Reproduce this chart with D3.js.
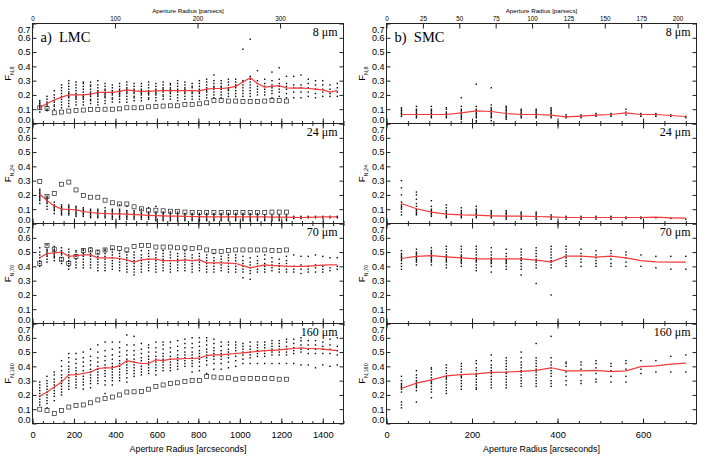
<!DOCTYPE html>
<html>
<head>
<meta charset="utf-8">
<script src="https://cdn.jsdelivr.net/npm/d3@7"></script>
<style>
body { margin: 0; background: #fff; }
text { font-family: "Liberation Sans", Arial, sans-serif; fill: #000; }
text.serif { font-family: "Liberation Serif", "Times New Roman", serif; font-weight: normal; }
</style>
</head>
<body>
<svg id="chart" width="708" height="459"></svg>
<script>
// aperture radii (arcsec) of each column
var lmcRadii = [35,70,105,140,175,210,245,280,315,350,385,420,455,490,525,560,595,630,665,700,
  735,770,805,840,875,910,945,980,1015,1050,1085,1120,1155,1190,1225,1260,1295,1330,1365,1400,1435,1470];
var smcRadii = [35,70,105,140,175,210,245,280,315,350,385,420,455,490,525,560,595,630,665,700];

var bands = ["8", "24", "70", "160"];
var yTicks = [0, 0.1, 0.2, 0.3, 0.4, 0.5, 0.6, 0.7];
var lmcXTicks = [0, 200, 400, 600, 800, 1000, 1200, 1400];
var smcXTicks = [0, 200, 400, 600];
var lmcPcTicks = [0, 100, 200, 300];
var smcPcTicks = [0, 25, 50, 75, 100, 125, 150, 175, 200];

// median lines
var lmcMed8 = [.112,.14,.165,.185,.20,.20,.20,.205,.218,.218,.218,.225,.235,.228,.225,.225,.228,.23,.23,.23,
  .23,.23,.228,.24,.245,.245,.25,.26,.29,.32,.28,.255,.26,.265,.25,.248,.25,.245,.24,.235,.22,.23];
var lmcMed24 = [.205,.16,.125,.10,.098,.095,.085,.077,.072,.07,.068,.067,.065,.062,.06,.057,.055,.053,.052,.051,
  .05,.049,.048,.047,.047,.047,.047,.046,.046,.046,.046,.046,.045,.045,.045,.043,.042,.043,.045,.046,.046,.047];
var lmcMed70 = [.46,.49,.495,.50,.47,.475,.48,.48,.46,.46,.46,.455,.445,.43,.445,.45,.45,.44,.44,.44,
  .445,.44,.445,.425,.425,.425,.422,.42,.405,.39,.40,.41,.405,.405,.40,.40,.40,.402,.405,.408,.41,.41];
var lmcMed160 = [.19,.22,.255,.29,.34,.342,.35,.36,.385,.39,.39,.405,.44,.43,.42,.42,.445,.44,.45,.45,
  .455,.455,.457,.475,.48,.48,.485,.49,.495,.50,.505,.51,.512,.515,.52,.525,.53,.525,.525,.52,.515,.51];

// open squares (LMC only)
var lmcBox8 = [.11,.105,.075,.08,.087,.091,.094,.098,.098,.10,.10,.103,.11,.11,.11,.117,.12,.122,.124,.124,
  .133,.133,.138,.145,.16,.16,.157,.157,.155,.155,.155,.157,.16,.16,.157];
var lmcBox24 = [.294,.19,.21,.275,.29,.235,.196,.184,.184,.163,.145,.137,.137,.117,.103,.093,.093,.089,.086,.084,
  .08,.078,.077,.076,.076,.077,.077,.076,.076,.077,.076,.078,.08,.08,.08];
var lmcBox70 = [.42,.545,.52,.45,.42,.47,.51,.515,.50,.515,.53,.525,.515,.54,.545,.545,.535,.535,.535,.53,
  .53,.525,.53,.515,.505,.505,.51,.515,.515,.515,.515,.515,.51,.51,.515];
var lmcBox160 = [.10,.09,.07,.09,.115,.125,.13,.145,.165,.175,.185,.20,.22,.222,.225,.24,.26,.27,.28,.285,
  .295,.30,.30,.33,.325,.32,.32,.31,.315,.315,.315,.315,.315,.31,.31];

// individual regions, one list per aperture
var lmcDots8 = [
  [.08,.10,.11,.12,.13,.14,.15,.16],[.09,.10,.12,.13,.14,.15,.17,.19],[.10,.12,.13,.15,.16,.18,.20,.23],
  [.11,.13,.15,.17,.19,.21,.23,.25,.27],[.12,.14,.16,.18,.19,.20,.21,.22,.24,.26,.28,.30],
  [.13,.15,.17,.18,.19,.20,.21,.23,.25,.27,.29],[.13,.15,.17,.18,.19,.20,.22,.24,.26,.28,.29],
  [.14,.16,.17,.19,.20,.21,.22,.24,.26,.27,.29],[.13,.15,.17,.19,.20,.21,.22,.23,.25,.27,.30],
  [.14,.16,.18,.19,.20,.21,.23,.24,.26,.28],[.15,.17,.18,.20,.21,.22,.23,.25,.27],
  [.15,.17,.19,.20,.21,.22,.23,.24,.26,.28],[.15,.17,.19,.21,.22,.23,.24,.25,.27,.29],
  [.16,.18,.19,.21,.22,.23,.24,.26,.28],[.16,.18,.20,.21,.22,.23,.24,.26,.28],
  [.17,.18,.20,.21,.22,.23,.25,.27,.29],[.16,.18,.20,.21,.22,.23,.24,.26,.28],
  [.17,.19,.20,.22,.23,.24,.25,.27,.29],[.17,.19,.21,.22,.23,.24,.25,.27,.28],
  [.16,.18,.20,.22,.23,.24,.26,.28,.30],[.17,.19,.21,.22,.23,.24,.25,.27,.29],
  [.17,.19,.21,.22,.23,.25,.26,.28],[.17,.19,.21,.22,.23,.24,.26,.28,.30],
  [.18,.20,.22,.23,.24,.25,.27,.29,.31],[.18,.20,.22,.24,.25,.26,.28,.30,.34],
  [.18,.20,.22,.24,.25,.26,.28,.30],[.19,.21,.23,.24,.25,.27,.29,.31],
  [.19,.21,.23,.25,.26,.27,.29,.31],[.19,.21,.23,.25,.27,.29,.30,.52],
  [.19,.21,.23,.25,.27,.29,.31,.33,.59],[.20,.22,.24,.26,.28,.30,.37],[.20,.22,.24,.26,.28,.31],
  [.18,.21,.23,.25,.27,.30,.36],[.19,.22,.24,.26,.28,.31,.39],[.18,.21,.24,.26,.28,.33],
  [.18,.22,.25,.27,.33],[.18,.22,.25,.27,.34],[.19,.22,.25,.28,.31],[.18,.21,.24,.27,.30],
  [.19,.22,.24,.27,.30],[.19,.21,.24,.27],[.19,.22,.25,.28]
];
var lmcDots24 = [
  [.14,.16,.17,.18,.19,.20,.21,.22,.23,.24],[.10,.12,.14,.15,.16,.17,.18,.19],[.07,.09,.10,.11,.12,.13,.15],
  [.06,.07,.08,.09,.10,.11,.12,.13],[.06,.07,.08,.09,.10,.11,.12,.13],[.05,.06,.07,.08,.09,.10,.11,.12],
  [.05,.06,.07,.08,.09,.10,.11],[.04,.05,.06,.07,.08,.09,.10],[.04,.05,.06,.07,.08,.09,.10],
  [.04,.05,.06,.07,.08,.09,.11],[.03,.04,.05,.06,.07,.08,.09,.10],[.03,.04,.05,.06,.07,.08,.09,.10,.13],
  [.03,.04,.05,.06,.07,.08,.09,.12],[.03,.04,.05,.06,.07,.08,.09],[.03,.04,.05,.06,.07,.08,.10],
  [.03,.04,.05,.06,.07,.08,.11],[.02,.03,.04,.05,.06,.07,.08,.12],[.02,.03,.04,.05,.06,.07,.08],
  [.02,.03,.04,.05,.06,.07,.08],[.02,.03,.04,.05,.06,.07,.08],[.02,.03,.04,.05,.06,.07],
  [.02,.03,.04,.05,.06,.07],[.02,.03,.04,.05,.06,.07],[.02,.03,.04,.05,.06,.07],[.02,.03,.04,.05,.06,.07],
  [.02,.03,.04,.05,.06,.07],[.02,.03,.04,.05,.06,.07],[.02,.03,.04,.05,.06,.07],[.02,.03,.04,.05,.06,.07],
  [.02,.03,.04,.05,.06,.07],[.02,.03,.04,.05,.06,.07],[.02,.03,.04,.05,.06],[.02,.03,.04,.05,.06],
  [.02,.03,.04,.05,.06],[.02,.03,.04,.05,.06],[.035,.05],[.035,.05],[.04,.05],[.04,.05],[.04,.05],[.04,.05],[.04,.05]
];
var lmcDots70 = [
  [.40,.42,.44,.46,.48,.50,.53],[.43,.45,.47,.48,.49,.50,.51,.52,.55],[.44,.46,.47,.48,.49,.50,.51,.52,.54],
  [.42,.44,.46,.48,.49,.50,.51,.53],[.38,.40,.42,.44,.46,.48,.50,.52],[.39,.41,.43,.45,.47,.48,.50,.51],
  [.39,.41,.43,.45,.47,.48,.49,.51,.52],[.39,.41,.43,.45,.47,.48,.49,.51,.53],[.37,.39,.41,.43,.45,.47,.49,.51],
  [.37,.39,.41,.43,.45,.47,.49,.51,.52],[.38,.40,.42,.44,.46,.48,.50,.52],[.37,.39,.41,.43,.45,.47,.49,.51],
  [.36,.38,.40,.42,.44,.46,.48,.50],[.34,.36,.38,.40,.42,.44,.46,.48,.50],[.36,.38,.40,.42,.44,.46,.48,.51],
  [.37,.39,.41,.43,.45,.47,.49,.51],[.36,.38,.40,.42,.44,.46,.48,.50],[.37,.39,.41,.43,.45,.47,.49,.51],
  [.36,.38,.40,.42,.44,.46,.48,.50],[.37,.39,.41,.43,.45,.47,.49],[.37,.39,.41,.43,.45,.47,.49,.51],
  [.36,.38,.40,.42,.44,.46,.48],[.37,.39,.41,.43,.45,.47,.49],[.36,.38,.40,.42,.44,.46,.48],
  [.36,.38,.40,.42,.44,.46,.49],[.37,.39,.41,.43,.45,.47],[.36,.38,.40,.42,.44,.46,.48],
  [.36,.38,.40,.42,.44,.46,.48],[.32,.36,.38,.40,.42,.44,.47],[.31,.35,.37,.39,.41,.43,.46],
  [.36,.38,.40,.42,.44,.47],[.36,.38,.40,.42,.45,.48],[.37,.39,.41,.43,.46],[.36,.38,.40,.42,.45],
  [.36,.38,.40,.42,.44,.47],[.36,.38,.40,.48],[.35,.38,.41,.47],[.36,.38,.40,.47],[.36,.39,.41,.48],
  [.36,.38,.40,.47],[.37,.39,.46],[.38,.40,.46]
];
var lmcDots160 = [
  [.13,.15,.17,.19,.21,.23,.25,.27,.29],[.11,.14,.16,.18,.20,.22,.24,.26,.28,.30,.33],
  [.16,.19,.21,.23,.25,.27,.29,.31,.34,.36],[.20,.22,.24,.26,.28,.30,.32,.34,.37,.40,.44],
  [.24,.26,.28,.30,.32,.34,.36,.38,.40,.43,.46,.49],[.25,.27,.29,.31,.33,.35,.37,.39,.42,.45,.49],
  [.24,.27,.29,.31,.33,.35,.37,.40,.43,.46,.50],[.25,.28,.30,.32,.34,.36,.38,.41,.44,.47,.52],
  [.28,.30,.32,.34,.36,.38,.40,.43,.46,.50,.55],[.21,.27,.30,.33,.35,.37,.39,.41,.44,.47,.51,.57],
  [.27,.30,.32,.34,.36,.38,.40,.42,.45,.48,.52,.57],[.30,.32,.34,.36,.38,.40,.42,.44,.47,.50,.53,.57],
  [.29,.32,.35,.37,.39,.41,.43,.45,.48,.51,.55,.62],[.33,.35,.37,.39,.41,.43,.45,.48,.51,.55,.61],
  [.34,.36,.38,.40,.42,.44,.46,.49,.52,.56],[.35,.37,.39,.41,.43,.45,.47,.50,.53,.55],
  [.34,.37,.39,.41,.43,.45,.47,.50,.53,.57],[.37,.39,.41,.43,.45,.47,.49,.52,.55,.57],
  [.37,.39,.41,.43,.45,.47,.50,.53,.57],[.38,.40,.42,.44,.46,.48,.51,.54,.58],
  [.40,.42,.44,.46,.48,.50,.53,.56,.59],[.36,.40,.42,.44,.46,.48,.50,.53,.56,.60],
  [.37,.40,.43,.45,.47,.49,.51,.54,.57,.60],[.35,.41,.44,.46,.48,.50,.52,.55,.58,.60],
  [.38,.42,.45,.47,.49,.51,.53,.56,.59],[.38,.42,.45,.47,.49,.51,.54,.57],[.39,.43,.46,.48,.50,.52,.55,.57],
  [.40,.44,.47,.49,.51,.53,.55,.57],[.42,.45,.48,.50,.52,.54,.56],[.42,.46,.48,.50,.52,.54,.57],
  [.42,.47,.49,.51,.53,.55,.57],[.42,.47,.49,.51,.53,.55,.57],[.42,.48,.50,.52,.54,.56,.58],
  [.42,.48,.50,.52,.54,.56,.58],[.42,.48,.50,.52,.54,.57,.59],[.42,.49,.51,.53,.56,.59],
  [.41,.50,.52,.55,.58,.60],[.41,.49,.52,.55,.58],[.39,.49,.52,.55,.58],[.41,.49,.52,.54,.57],
  [.40,.49,.52,.55,.59],[.41,.48,.51,.54,.60]
];

var smcMed8 = [.063,.063,.063,.063,.075,.089,.084,.07,.063,.063,.058,.047,.052,.058,.063,.075,.063,.063,.056,.049];
var smcMed24 = [.14,.103,.08,.065,.06,.058,.054,.051,.051,.049,.047,.042,.042,.042,.042,.042,.042,.044,.04,.037];
var smcMed70 = [.455,.47,.475,.467,.46,.453,.453,.453,.453,.444,.432,.472,.472,.465,.472,.46,.44,.432,.43,.43];
var smcMed160 = [.245,.283,.305,.333,.342,.347,.358,.36,.365,.372,.39,.368,.368,.372,.363,.368,.398,.403,.415,.422];

var smcDots8 = [
  [.05,.06,.07,.08,.09,.10,.11],[.04,.05,.06,.07,.08,.09,.10,.12],[.04,.05,.06,.07,.08,.09,.10,.12],
  [.04,.05,.06,.07,.08,.10,.11],[.01,.03,.04,.05,.06,.07,.08,.09,.10,.12,.18],
  [.01,.02,.04,.05,.06,.07,.08,.09,.10,.12,.275],[.00,.02,.04,.05,.06,.07,.08,.09,.10,.11,.13,.25],
  [.03,.04,.05,.06,.07,.08,.09,.10,.11,.12],[.04,.05,.06,.07,.08,.09,.10],[.04,.05,.06,.07,.08,.09,.10],
  [.04,.05,.06,.07,.08,.09,.10,.11],[.04,.05,.06],[.04,.05,.06],[.05,.06,.07],[.05,.06,.07],[.06,.08,.10],
  [.05,.06,.07],[.05,.06,.07],[.05,.06],[.04,.05]
];
var smcDots24 = [
  [.06,.08,.10,.11,.12,.13,.15,.20,.25,.30],[.06,.07,.08,.09,.10,.12,.14,.17,.20,.22],
  [.05,.06,.07,.08,.09,.10,.12,.16],[.04,.05,.06,.07,.08,.09,.11,.13],[.04,.05,.06,.07,.08,.09,.11],
  [.04,.05,.06,.07,.08,.09,.10,.12],[.04,.05,.06,.07,.08,.09],[.03,.04,.05,.06,.07,.08,.09],
  [.03,.04,.05,.06,.07,.08],[.03,.04,.05,.06,.07,.08],[.03,.04,.05,.06],[.03,.04,.05],[.03,.04,.05],
  [.03,.04,.05],[.03,.04,.05],[.035,.045],[.035,.045],[.04],[.035],[.03]
];
var smcDots70 = [
  [.38,.40,.42,.44,.45,.46,.47,.48,.49,.51],[.41,.43,.44,.45,.46,.47,.48,.49,.50,.52],
  [.41,.43,.44,.45,.46,.47,.48,.49,.50,.51,.53],[.39,.41,.43,.44,.45,.46,.47,.48,.50,.52,.54],
  [.40,.42,.43,.44,.45,.46,.47,.48,.50,.52,.54],[.37,.39,.41,.43,.44,.45,.46,.48,.50,.52,.54],
  [.36,.40,.42,.43,.44,.45,.46,.48,.50,.53],[.38,.40,.42,.43,.44,.45,.47,.49,.52],
  [.34,.38,.40,.42,.44,.45,.46,.48,.50,.52],[.28,.39,.41,.43,.44,.45,.47,.49,.51,.53],
  [.20,.39,.41,.43,.44,.46,.48,.50,.52,.54],[.40,.42,.44,.46,.48,.50,.52,.54],[.40,.43,.45,.47,.49,.52],
  [.40,.42,.44,.46,.48,.51],[.40,.42,.45,.47,.49,.51],[.40,.43,.46,.48,.50],[.40,.48],[.39,.47],[.38,.47],[.38,.47]
];
var smcDots160 = [
  [.11,.13,.15,.22,.24,.25,.26,.27,.28,.30,.33],[.15,.23,.25,.26,.27,.28,.29,.30,.32,.34,.37],
  [.18,.22,.24,.26,.28,.29,.30,.32,.34,.36,.38,.39],[.21,.23,.25,.27,.29,.31,.32,.33,.35,.37,.39,.41],
  [.24,.26,.28,.30,.32,.33,.34,.36,.38,.40,.42],[.24,.25,.27,.29,.31,.33,.34,.35,.37,.39,.42,.44],
  [.25,.27,.29,.31,.33,.35,.36,.37,.39,.41,.44,.48],[.25,.27,.29,.31,.33,.35,.36,.38,.40,.42,.44,.46],
  [.26,.28,.30,.32,.34,.36,.37,.39,.41,.43,.46,.50],[.26,.28,.30,.32,.34,.36,.38,.40,.42,.44,.46,.56],
  [.26,.28,.30,.33,.35,.37,.39,.41,.43,.46,.61],[.27,.30,.33,.36,.40,.42,.43],[.28,.30,.34,.38,.41,.43],
  [.29,.31,.35,.39,.42,.44],[.29,.33,.37,.40,.42],[.29,.33,.38,.42,.44],[.35,.38,.44],[.36,.44],[.36,.47],[.36,.48]
];

var svg = d3.select("#chart");
var top0 = 23.5, ph = 100;

var lmcX = d3.scaleLinear().domain([0, 1500]).range([32.5, 343.5]);
var smcX = d3.scaleLinear().domain([0, 725]).range([386.5, 696.5]);
var lmcPc = d3.scaleLinear().domain([0, 377]).range(lmcX.range());
var smcPc = d3.scaleLinear().domain([0, 213]).range(smcX.range());

function panel(x, pc, i, radii, med, box, dots, xTicks, pcTicks, tag) {
  var y = d3.scaleLinear().domain([0, 0.7]).range([top0 + (i + 1) * ph, top0 + i * ph]);
  var x0 = x.range()[0], x1 = x.range()[1];
  var g = svg.append("g");

  // dots
  var pts = [];
  dots.forEach(function (col, k) {
    col.forEach(function (v) { pts.push({ r: radii[k], v: v }); });
  });
  g.selectAll("rect.dot").data(pts).enter().append("rect")
    .attr("class", "dot")
    .attr("x", function (d) { return x(d.r) - 0.7; })
    .attr("y", function (d) { return y(d.v) - 0.7; })
    .attr("width", 1.4).attr("height", 1.4)
    .attr("fill", "#000");

  // squares
  if (box) {
    g.selectAll("rect.box").data(box).enter().append("rect")
      .attr("class", "box")
      .attr("x", function (d, k) { return x(radii[k]) - 2; })
      .attr("y", function (d) { return y(d) - 2; })
      .attr("width", 4).attr("height", 4)
      .attr("fill", "none").attr("stroke", "#222").attr("stroke-width", 0.7);
  }

  // median
  g.append("path").datum(med)
    .attr("fill", "none").attr("stroke", "#f23a3a").attr("stroke-width", 1.2)
    .attr("d", d3.line().x(function (d, k) { return x(radii[k]); }).y(function (d) { return y(d); }));

  // axes
  var minor = d3.range(0, x.domain()[1] + 1, 50);
  var bottom = y.range()[0], top = y.range()[1];
  g.append("g").attr("transform", "translate(0," + bottom + ")")
    .call(d3.axisBottom(x).tickValues(minor).tickSize(-2.5).tickFormat(""));
  var bx = g.append("g").attr("transform", "translate(0," + bottom + ")")
    .call(d3.axisBottom(x).tickValues(xTicks).tickSize(-5).tickPadding(8)
      .tickFormat(i == 3 ? d3.format("d") : ""));
  bx.selectAll("text").attr("font-size", 9.3);
  if (i == 0) {
    var tx = g.append("g").attr("transform", "translate(0," + top + ")")
      .call(d3.axisTop(pc).tickValues(pcTicks).tickSize(-5).tickPadding(3).tickFormat(d3.format("d")));
    tx.selectAll("text").attr("font-size", 6.3);
  } else {
    g.append("g").attr("transform", "translate(0," + top + ")")
      .call(d3.axisTop(x).tickValues(minor).tickSize(-2.5).tickFormat(""));
    g.append("g").attr("transform", "translate(0," + top + ")")
      .call(d3.axisTop(x).tickValues(xTicks).tickSize(-5).tickFormat(""));
  }
  var ly = g.append("g").attr("transform", "translate(" + x0 + ",0)")
    .call(d3.axisLeft(y).tickValues(yTicks).tickSize(-4).tickPadding(2).tickFormat(d3.format(".1f")));
  ly.selectAll("text").attr("font-size", 9)
    .attr("dy", function (d) { return d == 0 ? "-0.12em" : d == 0.7 ? "0.95em" : "0.32em"; });
  g.append("g").attr("transform", "translate(" + x1 + ",0)")
    .call(d3.axisRight(y).tickValues(yTicks).tickSize(-4).tickFormat(""));
  g.selectAll(".domain").remove();
  g.selectAll(".tick line").attr("stroke", "#222");

  g.append("rect").attr("x", x0).attr("y", top).attr("width", x1 - x0).attr("height", bottom - top)
    .attr("fill", "none").attr("stroke", "#222").attr("stroke-width", 1);

  // y title
  var yt = g.append("text")
    .attr("transform", "translate(" + (x0 - 22) + "," + (top + ph / 2) + ") rotate(-90)")
    .attr("text-anchor", "middle").attr("font-size", 9.5);
  yt.append("tspan").text("F");
  yt.append("tspan").attr("font-size", 5.5).attr("dy", 3).text("N," + bands[i]);

  g.append("text").attr("class", "serif")
    .attr("x", x1 - 6).attr("y", top + 12.5).attr("text-anchor", "end").attr("font-size", 12)
    .text(bands[i] + " \u03bcm");
  if (i == 0) {
    g.append("text").attr("class", "serif").attr("xml:space", "preserve")
      .attr("x", x0 + 8).attr("y", top + 18).attr("font-size", 14.5)
      .text(tag);
  }
}

var lmcMed = [lmcMed8, lmcMed24, lmcMed70, lmcMed160];
var lmcBox = [lmcBox8, lmcBox24, lmcBox70, lmcBox160];
var lmcDots = [lmcDots8, lmcDots24, lmcDots70, lmcDots160];
var smcMed = [smcMed8, smcMed24, smcMed70, smcMed160];
var smcDots = [smcDots8, smcDots24, smcDots70, smcDots160];

for (var i = 0; i < 4; i++) {
  panel(lmcX, lmcPc, i, lmcRadii, lmcMed[i], lmcBox[i], lmcDots[i], lmcXTicks, lmcPcTicks, "a)  LMC");
  panel(smcX, smcPc, i, smcRadii, smcMed[i], null, smcDots[i], smcXTicks, smcPcTicks, "b)  SMC");
}

[lmcX, smcX].forEach(function (x) {
  var cx = (x.range()[0] + x.range()[1]) / 2;
  svg.append("text").attr("x", cx).attr("y", 451.5).attr("text-anchor", "middle")
    .attr("font-size", 8.9).text("Aperture Radius [arcseconds]");
  svg.append("text").attr("x", cx).attr("y", 12.5).attr("text-anchor", "middle")
    .attr("font-size", 6.2).text("Aperture Radius [parsecs]");
});
</script>
</body>
</html>
